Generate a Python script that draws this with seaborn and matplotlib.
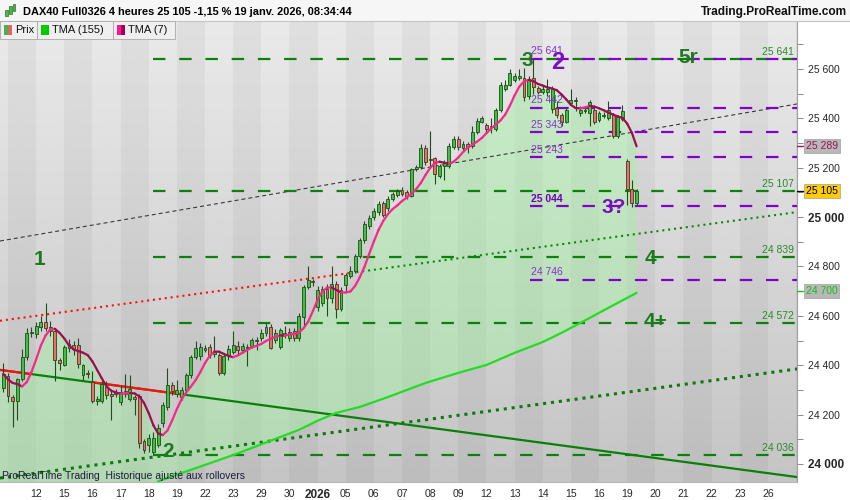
import numpy as np
import pandas as pd
import matplotlib
matplotlib.use("Agg")
import matplotlib.pyplot as plt
import seaborn as sns
from matplotlib.collections import LineCollection
from matplotlib.patches import Rectangle

# ---------------- data (DAX40 4h bars, 11 Dec 2025 -> 19 Jan 2026) ----------------
day_labels = ["12", "15", "16", "17", "18", "19", "22", "23", "29", "30", "2026",
              "05", "06", "07", "08", "09", "12", "13", "14", "15", "16",
              "19", "20", "21", "22", "23", "26"]

opens = [24308, 24356, 24271, 24255, 24344, 24433, 24530,
         24526, 24555, 24575, 24540, 24538, 24420,
         24401, 24470, 24480, 24480, 24360, 24370,
         24332, 24255, 24255, 24312, 24285, 24290,
         24250, 24295, 24262, 24270, 24275, 24093,
         24075, 24050, 24077, 24166, 24231, 24320,
         24285, 24271, 24300, 24360, 24433, 24437,
         24462, 24474, 24445, 24441, 24369, 24441,
         24454, 24478, 24462, 24470, 24478, 24500,
         24510, 24530, 24555, 24502, 24474, 24522,
         24510, 24538, 24510, 24595, 24717, 24740,
         24636, 24652, 24709, 24672, 24729, 24628,
         24725, 24761, 24782, 24843, 24907, 24964,
         25000, 25020, 25057, 25037, 25073, 25090,
         25110, 25102, 25086, 25195, 25203, 25280,
         25237, 25239, 25166, 25207, 25207, 25284,
         25316, 25280, 25296, 25288, 25345, 25385,
         25373, 25365, 25357, 25434, 25519, 25535,
         25555, 25565, 25563, 25490, 25565, 25523,
         25507, 25507, 25438, 25442, 25414, 25385,
         25462, 25468, 25422, 25430, 25422, 25434,
         25393, 25410, 25401, 25413, 25328, 25397,
         25227, 25114, 25057]
highs = [24410, 24370, 24280, 24350, 24465, 24550, 24555,
         24575, 24600, 24652, 24580, 24550, 24430,
         24480, 24505, 24500, 24510, 24405, 24380,
         24375, 24275, 24340, 24335, 24300, 24305,
         24315, 24365, 24360, 24280, 24285, 24100,
         24120, 24130, 24160, 24250, 24390, 24330,
         24340, 24310, 24370, 24440, 24500, 24490,
         24480, 24485, 24520, 24450, 24445, 24480,
         24540, 24500, 24490, 24485, 24510, 24515,
         24545, 24570, 24565, 24545, 24550, 24560,
         24550, 24550, 24610, 24725, 24800, 24750,
         24720, 24720, 24730, 24800, 24740, 24715,
         24775, 24800, 24850, 24915, 24985, 25010,
         25035, 25065, 25065, 25085, 25100, 25115,
         25120, 25110, 25200, 25210, 25295, 25290,
         25350, 25245, 25215, 25230, 25300, 25330,
         25330, 25310, 25305, 25370, 25400, 25410,
         25380, 25400, 25440, 25545, 25555, 25600,
         25585, 25600, 25605, 25570, 25641, 25530,
         25530, 25560, 25530, 25470, 25420, 25440,
         25520, 25485, 25450, 25450, 25475, 25440,
         25430, 25425, 25470, 25420, 25415, 25454,
         25235, 25150, 25115]
lows = [24290, 24250, 24150, 24180, 24335, 24420, 24515,
        24510, 24540, 24540, 24520, 24335, 24380,
        24395, 24455, 24440, 24390, 24340, 24350,
        24245, 24240, 24245, 24265, 24180, 24270,
        24240, 24270, 24255, 24200, 24065, 24045,
        24050, 24040, 24070, 24150, 24220, 24280,
        24270, 24260, 24290, 24350, 24425, 24420,
        24455, 24430, 24435, 24360, 24360, 24420,
        24445, 24440, 24450, 24395, 24470, 24460,
        24500, 24520, 24465, 24490, 24465, 24510,
        24500, 24500, 24500, 24560, 24710, 24720,
        24620, 24640, 24600, 24650, 24590, 24620,
        24700, 24755, 24775, 24835, 24895, 24950,
        24990, 25010, 25000, 25025, 25065, 25080,
        25085, 25075, 25080, 25185, 25195, 25210,
        25200, 25135, 25160, 25150, 25200, 25275,
        25270, 25270, 25260, 25280, 25335, 25380,
        25340, 25340, 25350, 25425, 25510, 25530,
        25545, 25555, 25470, 25480, 25500, 25500,
        25500, 25490, 25420, 25400, 25370, 25380,
        25455, 25430, 25410, 25420, 25370, 25375,
        25385, 25400, 25395, 25320, 25320, 25390,
        25050, 25040, 25050]
closes = [24365, 24276, 24255, 24344, 24433, 24530, 24535,
          24559, 24575, 24550, 24555, 24421, 24410,
          24474, 24485, 24465, 24405, 24400, 24365,
          24255, 24262, 24324, 24280, 24275, 24285,
          24290, 24285, 24305, 24262, 24085, 24057,
          24105, 24105, 24146, 24239, 24320, 24296,
          24300, 24300, 24360, 24433, 24470, 24474,
          24470, 24441, 24455, 24369, 24437, 24466,
          24482, 24462, 24478, 24474, 24502, 24502,
          24530, 24555, 24470, 24530, 24543, 24530,
          24535, 24510, 24600, 24717, 24745, 24737,
          24705, 24709, 24672, 24729, 24628, 24705,
          24765, 24782, 24843, 24907, 24972, 24996,
          25025, 25053, 25009, 25073, 25094, 25106,
          25094, 25086, 25195, 25203, 25280, 25223,
          25233, 25174, 25207, 25219, 25288, 25316,
          25284, 25296, 25284, 25345, 25389, 25401,
          25357, 25369, 25434, 25535, 25535, 25584,
          25572, 25570, 25487, 25560, 25525, 25507,
          25519, 25519, 25520, 25414, 25385, 25434,
          25474, 25474, 25434, 25434, 25466, 25385,
          25422, 25413, 25434, 25328, 25405, 25430,
          25114, 25057, 25105]

# TMA(155) (bar index, value)
tma155_bar = [33, 49, 63, 67, 71, 76, 82, 90, 97, 103, 109, 115, 119, 123, 127, 135]
tma155_val = [23930, 24036, 24138, 24175, 24207, 24231, 24271, 24328, 24369,
              24401, 24450, 24494, 24531, 24571, 24612, 24693]

# horizontal levels
green_levels = [25641, 25107, 24839, 24572, 24036]
purple_levels = [25641, 25442, 25343, 25243, 25044, 24746]

# trend lines (x in bars, y in points) and where their colour flips
black_dash_x, black_dash_y = [-0.7, 169.2], [24903, 25458]
mid_dot_x, mid_dot_y = [-0.7, 169.2], [24580, 25020]
mid_dot_switch = 74
low_dot_x, low_dot_y = [-0.7, 169.2], [23943, 24385]
solid_x, solid_y = [-0.7, 169.2], [24381, 23947]
solid_red_spans = [(-0.7, 5.7), (19.1, 38.1)]

# wave counts
wave_text = ["1", "2", "3", "2", "5r", "3?", "4", "4+"]
wave_x = [7.8, 35.1, 111.7, 118.3, 146.0, 130.2, 137.9, 139.0]
wave_y = [24830, 24049, 25636, 25624, 25648, 25037, 24834, 24579]
wave_col = ["g", "g", "g", "p", "g", "p", "g", "g"]

# right axis price boxes
last_price = 25105
tma7_last = 25289
tma155_last = 24700

# ---------------- style ----------------
sns.set_style("white")
plt.rcParams['font.family'] = ['Liberation Sans', 'DejaVu Sans']

GREEN_LVL = '#0a820a'
PURPLE = '#8200c8'
W, H = 850, 500
YMIN, YMAX = 23927, 25794
XMIN, XMAX = -0.7, 169.2


def fx(px):
    return px / W


def fy(py):
    return 1 - py / H


def fmt(v):
    return f"{int(v):,}".replace(",", " ")


fig = plt.figure(figsize=(8.5, 5), dpi=100)
fig.patch.set_facecolor('white')
ax = fig.add_axes([0, 18 / H, 797 / W, 461 / H])

# background: vertical gradient + alternating day bands
grad = np.linspace(0.915, 0.77, 256).reshape(-1, 1)
ax.imshow(grad, cmap='gray', vmin=0, vmax=1, extent=[0, 1, 0, 1],
          transform=ax.transAxes, aspect='auto', zorder=0)
for d in range(-1, 28, 2):
    ax.axvspan(7 + 6 * d, 13 + 6 * d, color='black', alpha=0.04, lw=0, zorder=0.5)

idx = np.arange(len(closes))
s = pd.Series(closes, dtype=float)
tma7 = s.rolling(4, min_periods=1).mean().rolling(4, min_periods=1).mean().values

# green area between the TMA(7) and the TMA(155) (or the bottom of the chart)
poly_x = np.concatenate([[XMIN], idx, tma155_bar[::-1], [tma155_bar[0], XMIN]])
poly_y = np.concatenate([[tma7[0]], tma7, tma155_val[::-1], [YMIN, YMIN]])
ax.fill(poly_x, poly_y, color='#9ef59e', alpha=0.42, lw=0, zorder=1)

# trend lines
ax.plot(black_dash_x, black_dash_y, color='#383838', lw=0.8,
        linestyle=(0, (3.6, 2.7)), zorder=2)

xs = np.array(mid_dot_x)
ys = np.array(mid_dot_y)
sw = np.interp(mid_dot_switch, xs, ys)
ax.plot([xs[0], mid_dot_switch], [ys[0], sw], color='#ff1010', lw=1.5,
        linestyle=(0, (1, 1.85)), zorder=2)
ax.plot([mid_dot_switch, xs[1]], [sw, ys[1]], color='#0a8a0a', lw=1.5,
        linestyle=(0, (1, 1.85)), zorder=2)

ax.plot(low_dot_x, low_dot_y, color='#0a7a0a', lw=2.2,
        linestyle=(0, (1, 1.6)), zorder=2)

ax.plot(solid_x, solid_y, color='#0a800a', lw=1.6, zorder=2)
for a, b in solid_red_spans:
    ax.plot([a, b], np.interp([a, b], solid_x, solid_y), color='#ff1010', lw=1.6, zorder=2.1)

# horizontal levels
for lv in green_levels:
    ax.plot([32, XMAX], [lv, lv], color=GREEN_LVL, lw=1.6,
            linestyle=(0, (5.6, 6.2)), zorder=2)
    ax.text(168.6, lv + 8, fmt(lv), color='#2a8a2a', fontsize=7.5,
            ha='right', va='bottom', zorder=4)
for lv in purple_levels:
    ax.plot([112.2, XMAX], [lv, lv], color=PURPLE, lw=1.6,
            linestyle=(0, (5.6, 6.2)), zorder=2)
    bold = 'bold' if lv == 25044 else 'normal'
    ax.text(112.5, lv + 10, fmt(lv), color='#8a30d0' if lv != 25044 else '#7000b8',
            fontsize=7.5, fontweight=bold, ha='left', va='bottom', zorder=4)

# TMA(155)
df155 = pd.DataFrame({'bar': tma155_bar, 'tma': tma155_val})
sns.lineplot(data=df155, x='bar', y='tma', ax=ax, color='#22dd22', lw=1.6,
             zorder=2.5, legend=False)

# candles
o = np.array(opens)
c = np.array(closes)
hi = np.array(highs)
lo = np.array(lows)
up = c >= o
ax.vlines(idx, lo, hi, color='#1e4d1e', lw=0.8, zorder=3)
ax.bar(idx[up], (c - o)[up], bottom=o[up], width=0.62, color='#3cc23c',
       edgecolor='#1e4d1e', linewidth=0.6, zorder=3.1)
ax.bar(idx[~up], (o - c)[~up], bottom=c[~up], width=0.62, color='#e8706a',
       edgecolor='#3d3d20', linewidth=0.6, zorder=3.1)

# TMA(7), pink when rising, dark magenta when falling
pts = np.column_stack([idx, tma7])
segs = np.stack([pts[:-1], pts[1:]], axis=1)
cols = ['#f7278b' if tma7[i + 1] >= tma7[i] else '#9e0c52' for i in range(len(tma7) - 1)]
ax.add_collection(LineCollection(segs, colors=cols, linewidths=1.6, zorder=3.5,
                                 capstyle='round'))

# wave labels
for t, x, y, col in zip(wave_text, wave_x, wave_y, wave_col):
    ax.text(x, y, t, color='#1d7a1d' if col == 'g' else '#7a10c0',
            fontsize=15 if t != "2" or col == 'g' else 17, fontweight='bold',
            ha='center', va='center', zorder=6)

# axes
ax.set_xlim(XMIN, XMAX)
ax.set_ylim(YMIN, YMAX)
ax.yaxis.tick_right()
ax.set_yticks(np.arange(24000, 25601, 200))
ax.set_yticks(np.arange(24000, 25701, 100), minor=True)
ax.set_yticklabels([fmt(v) for v in np.arange(24000, 25601, 200)])
for lab in ax.get_yticklabels():
    if lab.get_text() in ("24 000", "25 000"):
        lab.set_fontweight('bold')
        lab.set_fontsize(8.5)
    else:
        lab.set_fontsize(7.5)
ax.tick_params(axis='y', which='both', direction='out', length=4, width=0.7,
               color='#8a8a8a', pad=4, right=True, left=False)
ax.set_xticks([7 + 6 * d for d in range(len(day_labels))])
ax.set_xticklabels(day_labels)
for lab in ax.get_xticklabels():
    lab.set_fontsize(7.5)
    if lab.get_text() == "2026":
        lab.set_fontweight('bold')
        lab.set_fontsize(8.5)
ax.tick_params(axis='x', direction='out', length=3, width=0.7, color='#8a8a8a', pad=2)
ax.set_xlabel('')
ax.set_ylabel('')
for side in ['top', 'left']:
    ax.spines[side].set_visible(False)
ax.spines['right'].set_color('#a0a0a0')
ax.spines['bottom'].set_color('#b8b8b8')

# price boxes on the right axis
ytr = ax.get_yaxis_transform()
boxes = [(tma7_last, '#a0104f', '#b8b8b8'),
         (last_price, '#000000', '#ffcc00'),
         (tma155_last, '#10c010', '#b8b8b8')]
for val, tc, bc in boxes:
    ax.plot([1.0, 1.008], [val, val], color=tc, lw=1, transform=ytr, clip_on=False, zorder=5)
    ax.text(1.011, val, fmt(val), transform=ytr, color=tc, fontsize=7.5,
            ha='left', va='center', zorder=6,
            bbox=dict(boxstyle='square,pad=0.18', fc=bc, ec='#a0a0a0', lw=0.5))

# header strip
fig.add_artist(Rectangle((0, fy(21)), 1, 21 / H, transform=fig.transFigure,
                         fc='#f6f6f6', ec='none', zorder=10))
fig.add_artist(plt.Line2D([0, 1], [fy(21), fy(21)], transform=fig.transFigure,
                          color='#c4c4c4', lw=0.8, zorder=11))
for x0, y0, h, col in [(5, 10, 6, '#3cc23c'), (9, 6, 8, '#3cc23c'), (13, 4, 7, '#3cc23c')]:
    fig.add_artist(Rectangle((fx(x0), fy(y0 + h)), 2.5 / W, h / H, transform=fig.transFigure,
                             fc=col, ec='#1e4d1e', lw=0.4, zorder=12))
fig.text(fx(23), fy(12), "DAX40 Full0326 4 heures 25 105 -1,15 % 19 janv. 2026, 08:34:44",
         fontsize=7.9, fontweight='bold', color='black', va='center', ha='left', zorder=12)
fig.text(fx(847), fy(12), "Trading.ProRealTime.com", fontsize=8.6, fontweight='bold',
         color='#111111', va='center', ha='right', zorder=12)

# legend tabs
tabs = [(0, 37, "Prix", ['#4caf50', '#e06666']),
        (37, 113, "TMA (155)", ['#00cc00', '#00cc00']),
        (113, 175, "TMA (7)", ['#ff1493', '#a0005a'])]
for x0, x1, label, icon in tabs:
    fig.add_artist(Rectangle((fx(x0), fy(39)), (x1 - x0) / W, 18 / H, transform=fig.transFigure,
                             fc='#efefef', ec='#a8a8a8', lw=0.6, zorder=12))
    fig.add_artist(Rectangle((fx(x0 + 4), fy(35)), 4 / W, 10 / H, transform=fig.transFigure,
                             fc=icon[0], ec='none', zorder=13))
    fig.add_artist(Rectangle((fx(x0 + 8), fy(35)), 4 / W, 10 / H, transform=fig.transFigure,
                             fc=icon[1], ec='none', zorder=13))
    fig.text(fx(x0 + 15), fy(30), label, fontsize=8, color='#111111',
             va='center', ha='left', zorder=13)

# watermark
fig.text(fx(2), fy(476), "ProRealTime Trading  Historique ajusté aux rollovers",
         fontsize=7.5, color='#1c1c3c', va='center', ha='left', zorder=12)

fig.savefig("out.png", dpi=100, facecolor='white')
